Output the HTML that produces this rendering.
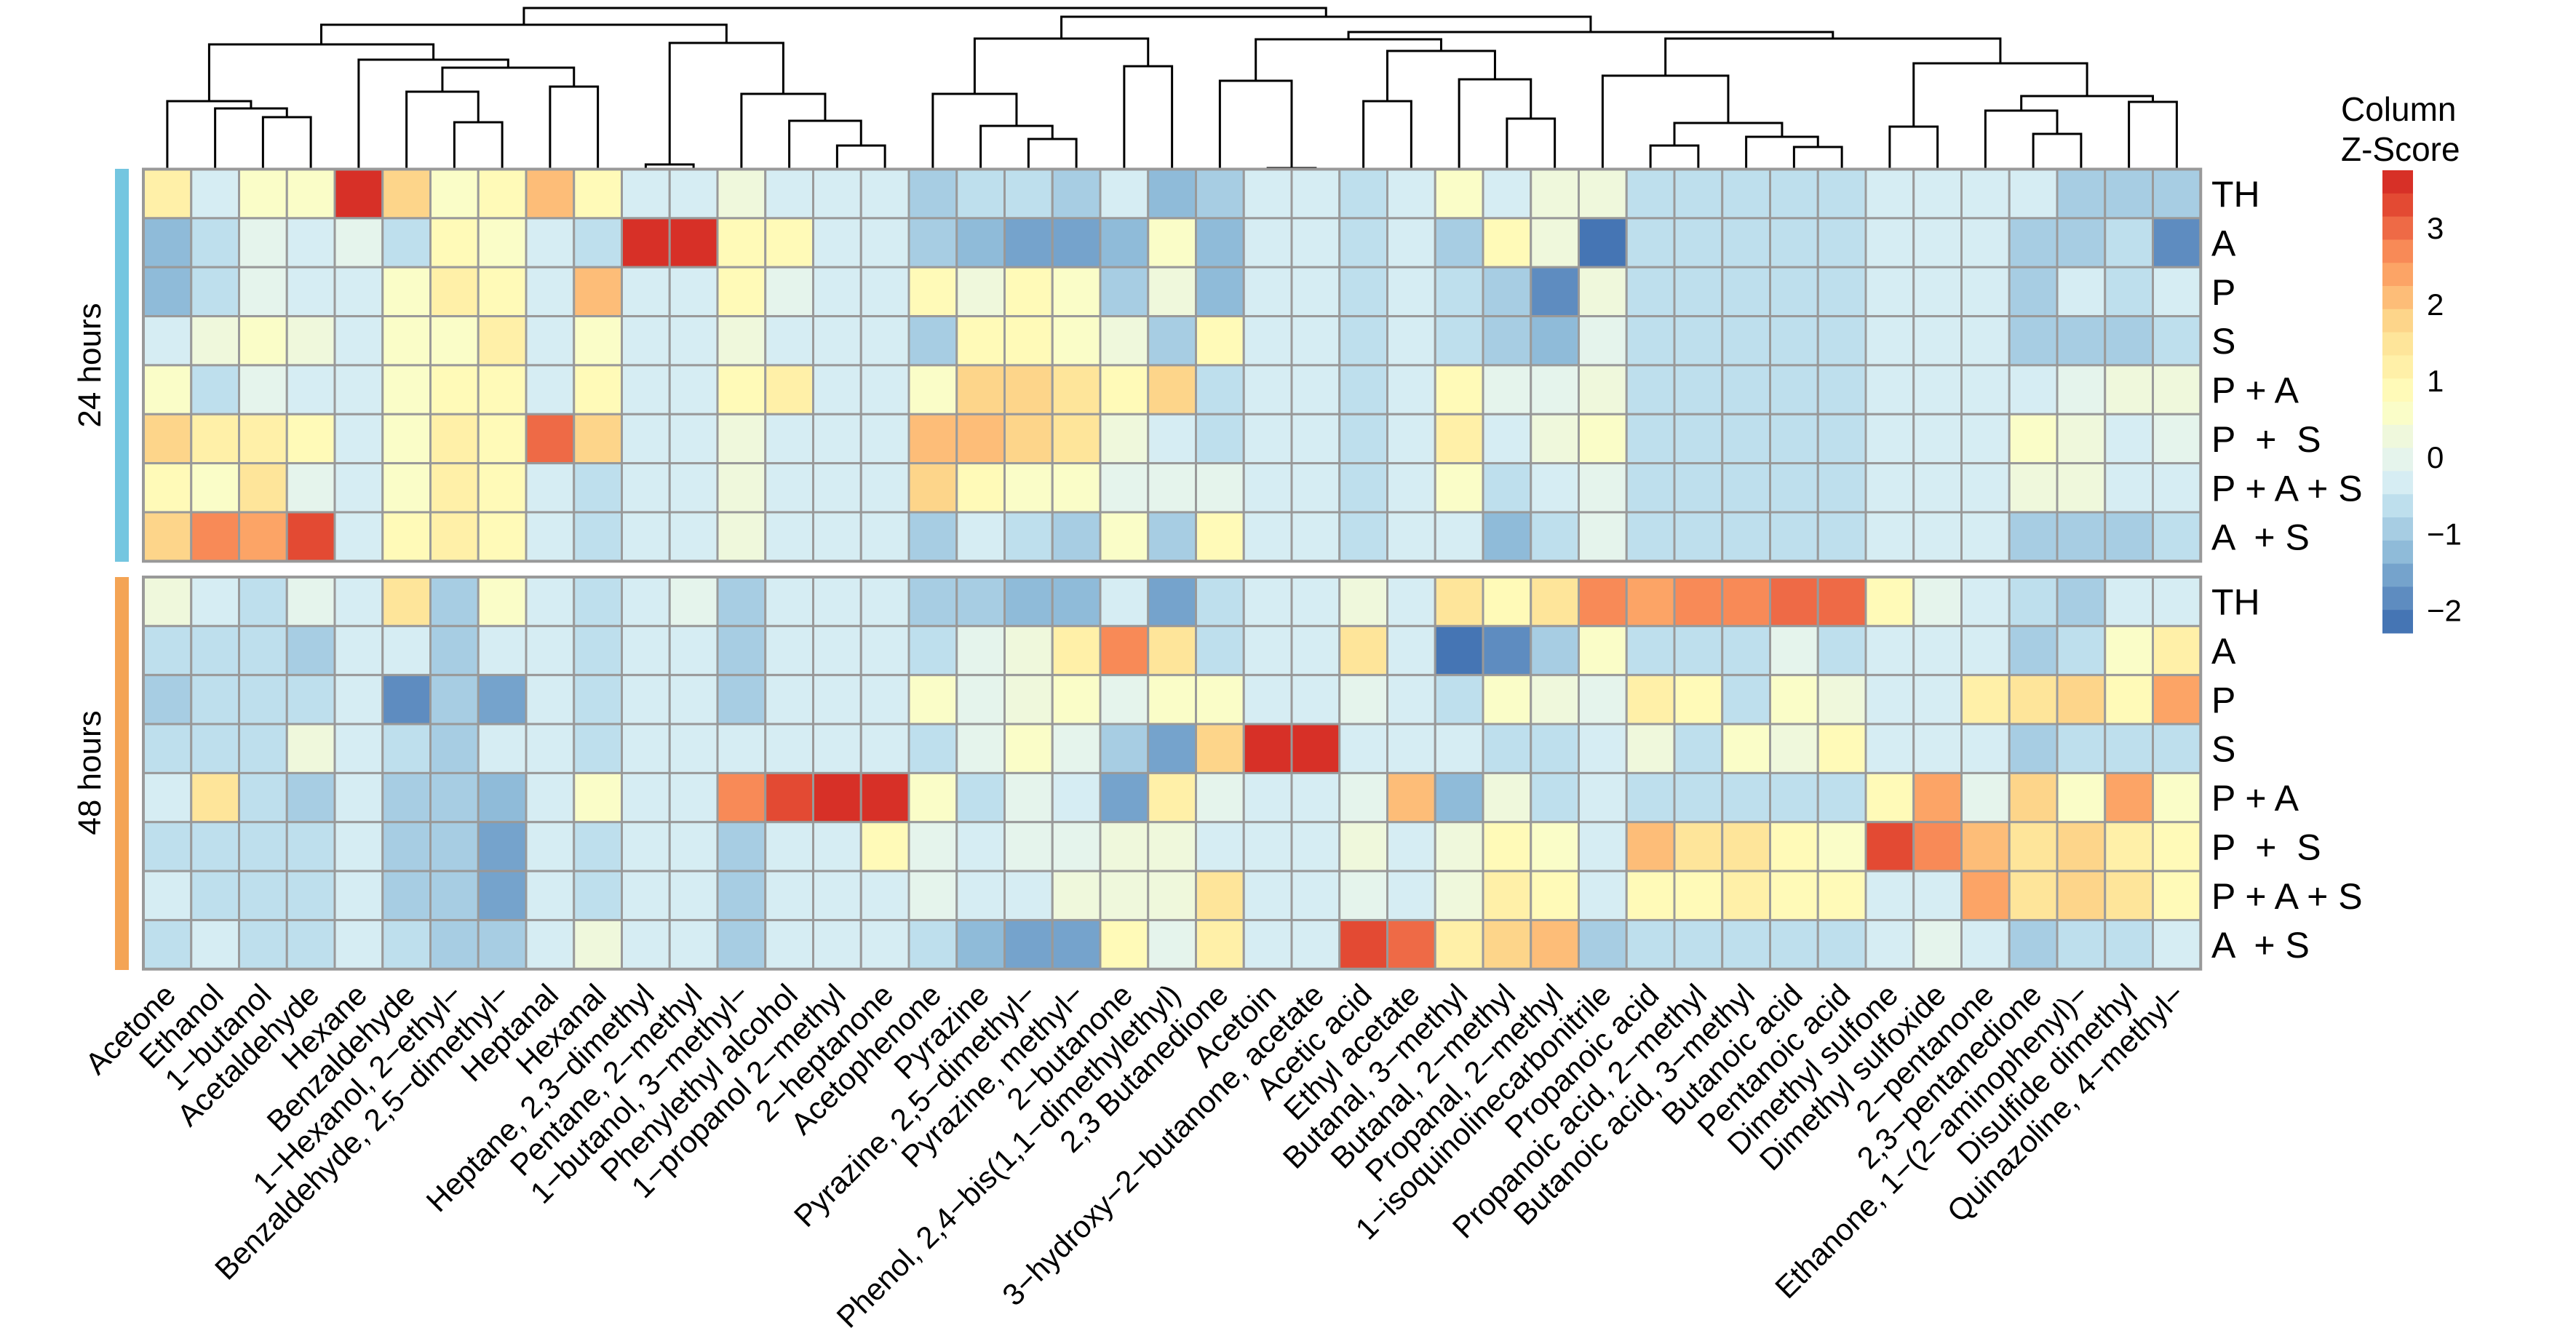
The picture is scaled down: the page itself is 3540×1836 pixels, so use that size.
<!DOCTYPE html>
<html><head><meta charset="utf-8"><style>
html,body{margin:0;padding:0;background:#fff;}
svg{display:block;font-family:"Liberation Sans",Arial,sans-serif;}
</style></head><body>
<svg id="chart" width="3540" height="1836" viewBox="0 0 3540 1836" xmlns="http://www.w3.org/2000/svg">
<g id="dendro"></g>
<g id="cells"></g>
<g id="xlabels"></g>
<g id="ylabels"></g>
<rect x="158" y="232" width="19" height="540" fill="#74c6e0"/>
<rect x="158" y="793" width="19" height="540" fill="#f4a455"/>
<text transform="translate(138,502) rotate(-90)" text-anchor="middle" font-size="44" fill="#000">24 hours</text>
<text transform="translate(138,1062) rotate(-90)" text-anchor="middle" font-size="44" fill="#000">48 hours</text>
<g id="legend">
<text x="3217" y="166" font-size="46">Column</text>
<text x="3217" y="221" font-size="46">Z-Score</text>
</g>
</svg>
<script>
const columns = ["Acetone","Ethanol","1\u2212butanol","Acetaldehyde","Hexane","Benzaldehyde","1\u2212Hexanol, 2\u2212ethyl\u2212","Benzaldehyde, 2,5\u2212dimethyl\u2212","Heptanal","Hexanal","Heptane, 2,3\u2212dimethyl","Pentane, 2\u2212methyl","1\u2212butanol, 3\u2212methyl\u2212","Phenylethyl alcohol","1\u2212propanol 2\u2212methyl","2\u2212heptanone","Acetophenone","Pyrazine","Pyrazine, 2,5\u2212dimethyl\u2212","Pyrazine, methyl\u2212","2\u2212butanone","Phenol, 2,4\u2212bis(1,1\u2212dimethylethyl)","2,3 Butanedione","Acetoin","3\u2212hydroxy\u22122\u2212butanone, acetate","Acetic acid","Ethyl acetate","Butanal, 3\u2212methyl","Butanal, 2\u2212methyl","Propanal, 2\u2212methyl","1\u2212isoquinolinecarbonitrile","Propanoic acid","Propanoic acid, 2\u2212methyl","Butanoic acid, 3\u2212methyl","Butanoic acid","Pentanoic acid","Dimethyl sulfone","Dimethyl sulfoxide","2\u2212pentanone","2,3\u2212pentanedione","Ethanone, 1\u2212(2\u2212aminophenyl)\u2212","Disulfide dimethyl","Quinazoline, 4\u2212methyl\u2212"];
const rowLabels = ["TH","A","P","S","P + A","P  +  S","P + A + S","A  + S"];
const h24_TH = [1.2,-0.3,0.6,0.6,3.6,1.8,0.6,0.9,2.1,0.9,-0.3,-0.3,0.3,-0.3,-0.3,-0.3,-0.9,-0.6,-0.6,-0.9,-0.3,-1.2,-0.9,-0.3,-0.3,-0.6,-0.3,0.6,-0.3,0.3,0.3,-0.6,-0.6,-0.6,-0.6,-0.6,-0.3,-0.3,-0.3,-0.3,-0.9,-0.9,-0.9];
const h24_A = [-1.2,-0.6,0,-0.3,0,-0.6,0.9,0.6,-0.3,-0.6,3.6,3.6,0.9,0.9,-0.3,-0.3,-0.9,-1.2,-1.5,-1.5,-1.2,0.6,-1.2,-0.3,-0.3,-0.6,-0.3,-0.9,0.9,0.3,-2.1,-0.6,-0.6,-0.6,-0.6,-0.6,-0.3,-0.3,-0.3,-0.9,-0.9,-0.6,-1.8];
const h24_P = [-1.2,-0.6,0,-0.3,-0.3,0.6,1.2,0.9,-0.3,2.1,-0.3,-0.3,0.9,0,-0.3,-0.3,0.9,0.3,0.9,0.6,-0.9,0.3,-1.2,-0.3,-0.3,-0.6,-0.3,-0.6,-0.9,-1.8,0.3,-0.6,-0.6,-0.6,-0.6,-0.6,-0.3,-0.3,-0.3,-0.9,-0.3,-0.6,-0.3];
const h24_S = [-0.3,0.3,0.6,0.3,-0.3,0.6,0.6,1.2,-0.3,0.6,-0.3,-0.3,0.3,-0.3,-0.3,-0.3,-0.9,0.9,0.9,0.6,0.3,-0.9,0.9,-0.3,-0.3,-0.6,-0.3,-0.6,-0.9,-1.2,0,-0.6,-0.6,-0.6,-0.6,-0.6,-0.3,-0.3,-0.3,-0.9,-0.9,-0.9,-0.6];
const h24_PA = [0.6,-0.6,0,-0.3,-0.3,0.6,0.9,0.9,-0.3,0.9,-0.3,-0.3,0.9,1.2,-0.3,-0.3,0.6,1.8,1.8,1.5,0.9,1.8,-0.6,-0.3,-0.3,-0.6,-0.3,0.9,0,0,0.3,-0.6,-0.6,-0.6,-0.6,-0.6,-0.3,-0.3,-0.3,-0.3,0,0.3,0.3];
const h24_PS = [1.8,1.2,1.2,0.9,-0.3,0.6,1.2,0.9,3.0,1.8,-0.3,-0.3,0.3,-0.3,-0.3,-0.3,2.1,2.1,1.8,1.5,0.3,-0.3,-0.6,-0.3,-0.3,-0.6,-0.3,1.2,-0.3,0.3,0.6,-0.6,-0.6,-0.6,-0.6,-0.6,-0.3,-0.3,-0.3,0.6,0.3,-0.3,0];
const h24_PAS = [0.9,0.6,1.5,0,-0.3,0.6,1.2,0.9,-0.3,-0.6,-0.3,-0.3,0.3,-0.3,-0.3,-0.3,1.8,0.9,0.6,0.6,0,0,0,-0.3,-0.3,-0.6,-0.3,0.6,-0.6,-0.3,0,-0.6,-0.6,-0.6,-0.6,-0.6,-0.3,-0.3,-0.3,0.3,0.3,-0.3,-0.3];
const h24_AS = [1.8,2.7,2.4,3.3,-0.3,0.9,1.2,0.9,-0.3,-0.6,-0.3,-0.3,0.3,-0.3,-0.3,-0.3,-0.9,-0.3,-0.6,-0.9,0.6,-0.9,0.9,-0.3,-0.3,-0.6,-0.3,-0.3,-1.2,-0.6,0,-0.6,-0.6,-0.6,-0.6,-0.6,-0.3,-0.3,-0.3,-0.9,-0.9,-0.9,-0.6];
const h48_TH = [0.3,-0.3,-0.6,0,-0.3,1.5,-0.9,0.6,-0.3,-0.6,-0.3,0,-0.9,-0.3,-0.3,-0.3,-0.9,-0.9,-1.2,-1.2,-0.3,-1.5,-0.6,-0.3,-0.3,0.3,-0.3,1.5,0.9,1.5,2.7,2.4,2.7,2.7,3.0,3.0,0.9,0,-0.3,-0.6,-0.9,-0.3,-0.3];
const h48_A = [-0.6,-0.6,-0.6,-0.9,-0.3,-0.3,-0.9,-0.3,-0.3,-0.6,-0.3,-0.3,-0.9,-0.3,-0.3,-0.3,-0.6,0,0.3,1.2,2.7,1.5,-0.6,-0.3,-0.3,1.5,-0.3,-2.1,-1.8,-0.9,0.6,-0.6,-0.6,-0.6,0,-0.6,-0.3,-0.3,-0.3,-0.9,-0.6,0.6,1.2];
const h48_P = [-0.9,-0.6,-0.6,-0.6,-0.3,-1.8,-0.9,-1.5,-0.3,-0.6,-0.3,-0.3,-0.9,-0.3,-0.3,-0.3,0.6,0,0.3,0.6,0,0.6,0.6,-0.3,-0.3,0,-0.3,-0.6,0.6,0.3,0,1.2,0.9,-0.6,0.6,0.3,-0.3,-0.3,1.2,1.5,1.8,0.9,2.4];
const h48_S = [-0.6,-0.6,-0.6,0.3,-0.3,-0.6,-0.9,-0.3,-0.3,-0.6,-0.3,-0.3,-0.3,-0.3,-0.3,-0.3,-0.6,0,0.6,0,-0.9,-1.5,1.8,3.6,3.6,-0.3,-0.3,-0.3,-0.6,-0.6,-0.3,0.3,-0.6,0.6,0.3,0.9,-0.3,-0.3,-0.3,-0.9,-0.6,-0.6,-0.6];
const h48_PA = [-0.3,1.5,-0.6,-0.9,-0.3,-0.9,-0.9,-1.2,-0.3,0.6,-0.3,-0.3,2.7,3.3,3.6,3.6,0.6,-0.6,0,-0.3,-1.5,1.2,0,-0.3,-0.3,0,2.1,-1.2,0.3,-0.6,-0.3,-0.6,-0.6,-0.6,-0.6,-0.6,0.9,2.4,0,1.8,0.6,2.4,0.6];
const h48_PS = [-0.6,-0.6,-0.6,-0.6,-0.3,-0.9,-0.9,-1.5,-0.3,-0.6,-0.3,-0.3,-0.9,-0.3,-0.3,0.9,0,-0.3,0,0,0.3,0.3,-0.3,-0.3,-0.3,0.3,-0.3,0.3,0.9,0.6,-0.3,2.1,1.5,1.5,0.9,0.6,3.3,2.7,2.1,1.5,1.8,1.2,0.9];
const h48_PAS = [-0.3,-0.6,-0.6,-0.6,-0.3,-0.9,-0.9,-1.5,-0.3,-0.6,-0.3,-0.3,-0.9,-0.3,-0.3,-0.3,0,-0.3,-0.3,0.3,0.3,0.3,1.5,-0.3,-0.3,0,-0.3,0.3,1.2,0.9,-0.3,0.9,0.9,1.2,0.9,0.9,-0.3,-0.3,2.4,1.5,1.8,1.5,0.9];
const h48_AS = [-0.6,-0.3,-0.6,-0.6,-0.3,-0.6,-0.9,-0.9,-0.3,0.3,-0.3,-0.3,-0.9,-0.3,-0.3,-0.3,-0.6,-1.2,-1.5,-1.5,0.9,0,1.2,-0.3,-0.3,3.3,3.0,1.2,1.8,2.1,-0.9,-0.6,-0.6,-0.6,-0.6,-0.6,-0.3,0,-0.3,-0.9,-0.6,-0.6,-0.3];
const block24 = [h24_TH,h24_A,h24_P,h24_S,h24_PA,h24_PS,h24_PAS,h24_AS];
const block48 = [h48_TH,h48_A,h48_P,h48_S,h48_PA,h48_PS,h48_PAS,h48_AS];
const legendTicks = [3,2,1,0,-1,-2];
const legendColors = ["#d73027","#e34a33","#ee6a46","#f88a57","#fca466","#fdbd78","#fdd58a","#fee59a","#fff0a8","#fffab8","#fafdc8","#eff8dc","#e5f4ec","#d6edf3","#bedfed","#a7cde3","#8fbbd9","#75a3cc","#5e8cc0","#4575b4"];
const mergeLeft  = [2,1,0,6,5,8,"m4",4,"m2",10,14,13,12,"m9","m8",18,17,16,20,"m17",23,22,25,28,27,"m22","m21",31,34,33,"m27",30,36,39,38,41,"m34","m32","m31","m26","m19","m14"];
const mergeRight = [3,"m0","m1",7,"m3",9,"m5","m6","m7",11,15,"m10","m11","m12","m13",19,"m15","m16",21,"m18",24,"m20",26,29,"m23","m24","m25",32,35,"m28","m29","m30",37,40,"m33",42,"m35","m36","m37","m38","m39","m40"];
const mergeHeight = [71,83,93,64,106,113,139,150,171,6,32,66,103,173,198,41,59,103,141,179,1,121,93,69,123,162,178,32,30,44,63,128,58,48,80,92,100,145,179,188,209,221];

const NS="http://www.w3.org/2000/svg";
const X0=197, CW=65.75, CH=67.35, TOP24=232.5, TOP48=793, VMAX=3.75, STEP=0.3025, DBASE=232;
const xCenter = i => X0 + (i+0.5)*CW;
const yDend = h => DBASE - h;
function colorOf(v){let k=Math.floor((VMAX-v)/STEP);k=Math.max(0,Math.min(19,k));return legendColors[k];}
function mk(tag,attrs,parent){const e=document.createElementNS(NS,tag);for(const k in attrs)e.setAttribute(k,attrs[k]);parent.appendChild(e);return e;}

const cells=document.getElementById('cells');
function drawBlock(block,top,tag){
  block.forEach((row,r)=>{row.forEach((v,c)=>{
    const e=mk('rect',{x:X0+c*CW,y:top+r*CH,width:CW,height:CH,fill:colorOf(v),stroke:'#999',"stroke-width":3},cells);
    
    
  });});
  const b=mk('rect',{x:X0,y:top,width:CW*columns.length,height:CH*block.length,fill:'none',stroke:'#999',"stroke-width":4},cells);
  
  
}
drawBlock(block24,TOP24,'24h');
drawBlock(block48,TOP48,'48h');

const yl=document.getElementById('ylabels');
[TOP24,TOP48].forEach((top,bi)=>{rowLabels.forEach((lab,r)=>{
  const t=mk('text',{x:3039,y:top+(r+0.5)*CH+18,"font-size":50,fill:'#000',"xml:space":"preserve"},yl);
  t.style.whiteSpace='pre';
  t.textContent=lab;
  
  
});});

const xl=document.getElementById('xlabels');
columns.forEach((lab,i)=>{
  const cx=xCenter(i)+14, cy=1370;
  const t=mk('text',{transform:'translate('+cx+','+cy+') rotate(-45)',"text-anchor":'end',"font-size":42,fill:'#000'},xl);
  t.textContent=lab;
  
  
});

const dg=document.getElementById('dendro');
const pos={};
function getPos(ref){ if(typeof ref==='number') return {x:xCenter(ref),y:DBASE}; return pos[ref]; }
mergeLeft.forEach((L,k)=>{
  const a=getPos(L), b=getPos(mergeRight[k]), y=yDend(mergeHeight[k]);
  const p=mk('path',{d:'M'+a.x+','+a.y+'V'+y+'H'+b.x+'V'+b.y,fill:'none',stroke:'#000',"stroke-width":3},dg);
  
  
  pos['m'+k]={x:(a.x+b.x)/2,y:y};
});

const lg=document.getElementById('legend');
const LT=234, LB=870, LX=3274, LW=42, bh=(LB-LT)/legendColors.length;
legendColors.forEach((c,i)=>{
  const r=mk('rect',{x:LX,y:LT+i*bh,width:LW,height:bh+0.5,fill:c},lg);
  
  
});
legendTicks.forEach(v=>{
  const y=LT+(VMAX-v)/STEP*bh;
  const t=mk('text',{x:3335,y:y+15,"font-size":42,fill:'#000'},lg);
  t.textContent=(v<0?'\u2212':'')+Math.abs(v);
  
  
});
</script>
</body></html>
